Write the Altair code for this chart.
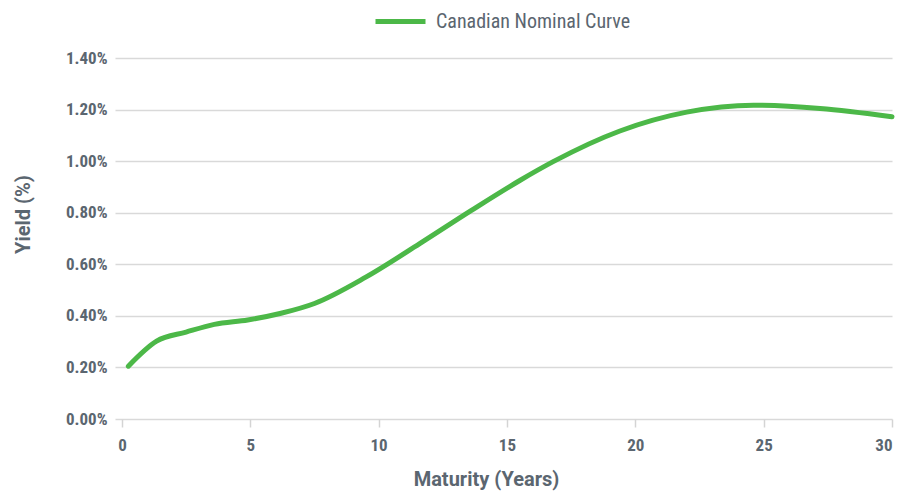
import altair as alt
import pandas as pd

maturity = [0.25, 1.35, 2.5, 3.6, 4.9, 6.2, 7.5, 9.5, 11.6, 13.6, 15.5, 16.8, 19.4, 22.0, 24.6, 27.2, 30.0]
yield_pct = [0.205, 0.302, 0.337, 0.367, 0.384, 0.41, 0.448, 0.55, 0.68, 0.808, 0.925, 0.998, 1.117, 1.19, 1.217, 1.204, 1.172]
series = "Canadian Nominal Curve"

df = pd.DataFrame({"Maturity": maturity, "Yield": yield_pct, "Series": series})

NARROW = "Liberation Sans Narrow, Roboto Condensed, Roboto, sans-serif"
TITLEF = "Roboto, sans-serif"
GREY = "#5b6670"

chart = alt.Chart(df).mark_line(strokeWidth=5, interpolate="monotone", strokeCap="round").encode(
    x=alt.X("Maturity:Q",
            scale=alt.Scale(domain=[-0.27, 30], nice=False, zero=False),
            axis=alt.Axis(title="Maturity (Years)", values=[0, 5, 10, 15, 20, 25, 30],
                          grid=False, domain=False, ticks=True, tickColor="#d4d4d4",
                          tickSize=8, tickWidth=1.5, labelPadding=10, format="d",
                          titlePadding=16, titleX=371)),
    y=alt.Y("Yield:Q",
            scale=alt.Scale(domain=[0, 1.4], nice=False),
            axis=alt.Axis(title="Yield (%)", values=[0, 0.2, 0.4, 0.6, 0.8, 1.0, 1.2, 1.4],
                          labelExpr="format(datum.value, '.2f') + '%'",
                          grid=True, gridColor="#d9d9d9", gridWidth=1.5,
                          domain=False, ticks=False, labelPadding=8, titlePadding=32,
                          titleY=156)),
    color=alt.Color("Series:N",
                    scale=alt.Scale(domain=[series], range=["#4cb848"]),
                    legend=alt.Legend(title=None, orient="none", legendX=258, legendY=-64,
                                      symbolType="stroke", symbolSize=2500, symbolStrokeWidth=5,
                                      labelFontSize=20, labelColor=GREY, labelFont=NARROW,
                                      labelFontWeight="normal", labelOffset=8, labelLimit=0)),
).properties(
    width=777, height=361,
    autosize=alt.AutoSizeParams(type="none"),
    padding={"left": 107, "top": 50, "right": 17, "bottom": 78},
).configure_axis(
    labelFont=NARROW, titleFont=TITLEF, labelColor=GREY, titleColor=GREY,
    labelFontSize=17, titleFontSize=20, labelFontWeight="bold", titleFontWeight="bold",
).configure_view(stroke=None)

chart.save("out.html", embed_options={"renderer": "svg", "actions": False})
